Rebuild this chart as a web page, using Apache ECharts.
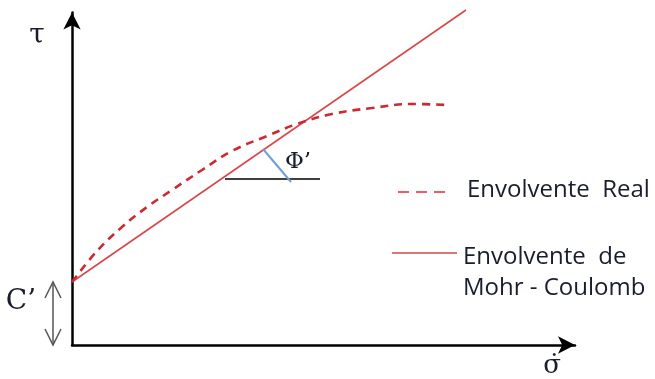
<!DOCTYPE html>
<html>
<head>
<meta charset="utf-8">
<script src="https://cdn.jsdelivr.net/npm/echarts@6/dist/echarts.min.js"></script>
<style>html,body{margin:0;padding:0;background:#fff}#c{width:655px;height:379px}</style>
</head>
<body>
<div id="c"></div>
<script>
// Envolvente Real (curved, dashed)
const sigmaReal = [0, 5, 10, 15, 20, 26, 32, 39, 45, 52, 60, 68, 75];
const tauReal   = [12.6, 18.8, 23.6, 27.6, 31.0, 35.0, 38.8, 41.8, 44.2, 46.2, 47.4, 48.2, 48.0];
// Envolvente de Mohr - Coulomb (straight)
const sigmaMC = [0, 78.8];
const tauMC   = [12.6, 67.0];
// friction-angle marker
const sigmaHoriz = [30.6, 49.6];
const tauHoriz   = [33.2, 33.2];
const sigmaArc = [38.2, 43.8];
const tauArc   = [39.2, 32.6];
// cohesion
const cohesion = 12.6;
const cohesionX = -3.8;
const legendNames = ['Envolvente  Real', 'Envolvente  de', 'Mohr - Coulomb'];

const zip = (a, b) => a.map((v, i) => [v, b[i]]);
const chart = echarts.init(document.getElementById('c'), null, {renderer: 'canvas'});
const serif = '"DejaVu Serif","Liberation Serif",serif';
const sans = '"Open Sans",Lato,sans-serif';
const txt = '#1a1d2e';

chart.setOption({
  animation: false,
  backgroundColor: '#fff',
  grid: {left: 72, top: 12.5, width: 503, height: 332.5},
  xAxis: {type: 'value', min: 0, max: 100.6,
    axisLine: {show: true, lineStyle: {color: '#000', width: 2.5}, symbol: ['none', 'arrow'], symbolSize: [13, 17]},
    axisTick: {show: false}, axisLabel: {show: false}, splitLine: {show: false}},
  yAxis: {type: 'value', min: 0, max: 66.5,
    axisLine: {show: true, onZero: false, lineStyle: {color: '#000', width: 2.5}, symbol: ['none', 'arrow'], symbolSize: [13, 17]},
    axisTick: {show: false}, axisLabel: {show: false}, splitLine: {show: false}},
  series: [
    {name: 'Envolvente de Mohr - Coulomb', type: 'line', data: zip(sigmaMC, tauMC), showSymbol: false, clip: false,
      lineStyle: {color: '#d9474a', width: 1.6}},
    {name: 'Envolvente Real', type: 'line', data: zip(sigmaReal, tauReal), smooth: 0.4, showSymbol: false,
      lineStyle: {color: '#cc2a30', width: 2.6, type: [8, 6]}},
    {type: 'line', data: zip(sigmaHoriz, tauHoriz), showSymbol: false, lineStyle: {color: '#000', width: 1.3}},
    {type: 'line', data: zip(sigmaArc, tauArc), showSymbol: false, lineStyle: {color: '#6f9fd3', width: 2}}
  ]
});

const cTop = chart.convertToPixel({gridIndex: 0}, [cohesionX, cohesion]);
const cBot = chart.convertToPixel({gridIndex: 0}, [cohesionX, 0]);
const ax = cTop[0], hw = 8, hh = 16;
chart.setOption({
  graphic: [
    {type: 'line', shape: {x1: ax, y1: cTop[1], x2: ax, y2: cBot[1]}, style: {stroke: '#555', lineWidth: 1.5}},
    {type: 'polyline', shape: {points: [[ax - hw, cTop[1] + hh], [ax, cTop[1]], [ax + hw, cTop[1] + hh]]}, style: {stroke: '#555', lineWidth: 1.5, fill: null}},
    {type: 'polyline', shape: {points: [[ax - hw, cBot[1] - hh], [ax, cBot[1]], [ax + hw, cBot[1] - hh]]}, style: {stroke: '#555', lineWidth: 1.5, fill: null}},
    {type: 'text', x: 37, y: 36, style: {text: 'τ', font: '28px ' + serif, fill: txt, align: 'center', verticalAlign: 'middle'}},
    {type: 'text', x: 552, y: 366, style: {text: 'σ̇', font: '26px ' + serif, fill: txt, align: 'center', verticalAlign: 'middle'}},
    {type: 'text', x: 21, y: 302, style: {text: 'C’', font: '28px ' + serif, fill: txt, align: 'center', verticalAlign: 'middle'}},
    {type: 'text', x: 298, y: 162, style: {text: 'Φ’', font: '23px ' + serif, fill: txt, align: 'center', verticalAlign: 'middle'}},
    {type: 'line', shape: {x1: 398, y1: 192, x2: 447, y2: 192}, style: {stroke: '#e8282e', lineWidth: 1.6, lineDash: [11, 7]}},
    {type: 'text', x: 467, y: 190, style: {text: legendNames[0], font: '24px ' + sans, fill: txt, verticalAlign: 'middle'}},
    {type: 'line', shape: {x1: 392, y1: 253, x2: 457, y2: 253}, style: {stroke: '#c0504d', lineWidth: 1.6}},
    {type: 'text', x: 463, y: 257, style: {text: legendNames[1], font: '24px ' + sans, fill: txt, verticalAlign: 'middle'}},
    {type: 'text', x: 463, y: 288, style: {text: legendNames[2], font: '24px ' + sans, fill: txt, verticalAlign: 'middle'}}
  ]
});
</script>
</body>
</html>
